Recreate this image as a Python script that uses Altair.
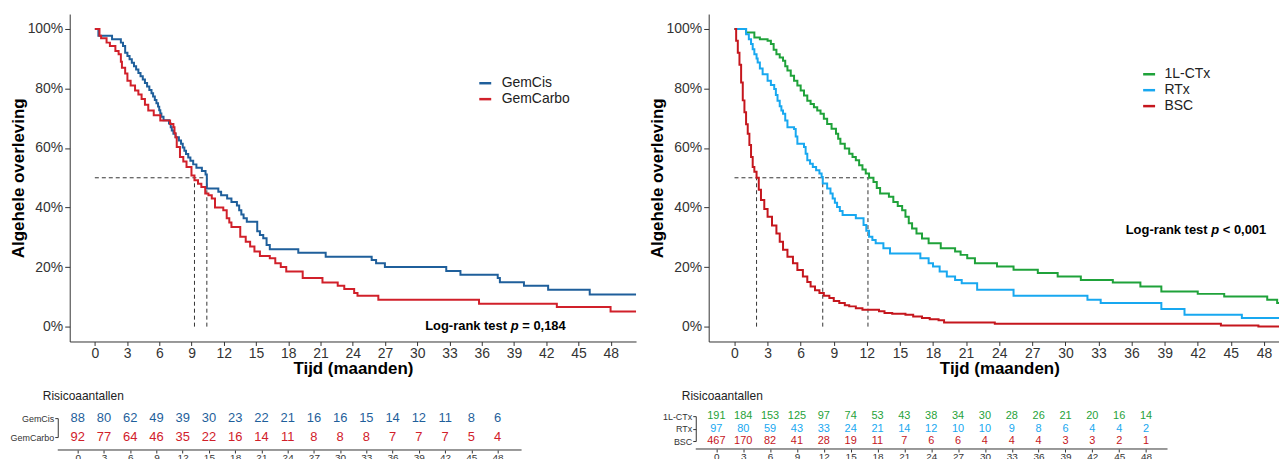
import altair as alt
import pandas as pd

FONT = "Liberation Sans"

# ---------------- Left panel: GemCis vs GemCarbo ----------------
left_groups = ["GemCis", "GemCarbo"]
left_colors = ["#1F5F9B", "#D1202A"]

gemcis_t = [0, 0.33, 1.60, 2.42, 2.62, 2.82, 3.03, 3.23, 3.44, 3.64, 3.84, 4.05, 4.25, 4.46, 4.66, 4.86, 5.07,
            5.27, 5.42, 5.58, 5.73, 5.88, 5.99, 6.09, 6.19, 6.39, 6.90, 7.06, 7.16, 7.31, 7.51, 7.82, 8.02, 8.18,
            8.33, 8.48, 8.69, 8.89, 9.15, 9.45, 9.96, 10.30, 10.42, 11.49, 11.75, 12.31, 12.71, 13.22, 13.43,
            13.63, 13.84, 14.14, 15.11, 15.36, 15.67, 15.98, 16.28, 18.93, 21.48, 25.76, 26.17, 26.99, 32.70,
            34.02, 37.49, 37.69, 39.93, 42.18, 46.05, 50.36]
gemcis_s = [100, 97.7, 96.5, 95.4, 94.3, 92.0, 90.9, 89.8, 88.6, 87.5, 86.4, 85.2, 84.1, 83.0, 81.8, 80.7, 79.5,
            78.4, 77.3, 76.1, 75.0, 73.9, 72.7, 71.6, 70.5, 69.3, 68.2, 67.0, 65.9, 64.8, 63.6, 62.5, 61.4, 60.2,
            59.1, 58.0, 56.8, 55.7, 54.5, 53.4, 52.3, 51.1, 46.4, 45.3, 44.1, 43.0, 41.9, 40.7, 39.1, 37.7, 36.4,
            35.2, 32.0, 30.8, 29.7, 27.4, 26.0, 24.8, 23.5, 22.4, 21.3, 20.0, 18.7, 17.4, 16.3, 14.9, 13.7, 12.4,
            10.8, 10.8]

gemcarbo_t = [0, 0.43, 0.58, 1.09, 1.40, 1.91, 2.21, 2.42, 2.52, 2.82, 3.03, 3.33, 3.74, 4.05, 4.35, 4.66, 4.97,
              5.48, 6.09, 7.00, 7.31, 7.41, 7.51, 7.62, 7.92, 8.23, 8.53, 8.99, 9.27, 9.60, 9.91, 10.27, 10.57,
              10.88, 11.18, 11.95, 12.27, 12.51, 12.71, 13.53, 14.04, 14.45, 14.85, 15.36, 16.28, 16.79, 17.30,
              17.81, 19.34, 21.18, 22.60, 23.21, 24.13, 24.44, 26.38, 35.75, 42.99, 47.99, 50.36]
gemcarbo_s = [100, 97.7, 96.9, 95.4, 94.3, 92.6, 91.5, 89.0, 87.0, 85.0, 82.6, 81.0, 79.3, 78.0, 76.5, 74.5,
              72.6, 71.0, 69.2, 68.1, 67.0, 65.0, 63.6, 60.3, 57.0, 55.5, 53.6, 50.8, 49.2, 48.0, 46.9, 44.7,
              44.1, 43.0, 40.0, 39.1, 36.4, 35.0, 33.5, 30.2, 28.5, 26.9, 25.2, 23.7, 23.0, 21.3, 20.0, 18.5,
              16.3, 14.8, 13.7, 12.6, 11.3, 10.4, 9.0, 7.7, 6.6, 5.1, 5.1]

left_medians = [9.27, 10.42]
left_note_x = [30.74]
left_note_y = [0.3]
left_note_rest = "= 0,184"

# ---------------- Right panel: 1L-CTx vs RTx vs BSC ----------------
right_groups = ["1L-CTx", "RTx", "BSC"]
right_colors = ["#1FA23A", "#18A8F0", "#C5161D"]

ctx_t = [0, 1.05, 1.8, 2.3, 3.0, 3.3, 3.55, 3.8, 4.1, 4.4, 4.6, 4.8, 5.1, 5.4, 5.7, 6.0, 6.3, 6.6, 6.9, 7.2,
         7.5, 7.8, 8.1, 8.4, 8.8, 9.2, 9.4, 9.6, 10.0, 10.4, 10.7, 11.0, 11.3, 11.6, 11.9, 12.2, 12.6, 12.9,
         13.2, 14.0, 14.4, 14.8, 15.2, 15.5, 15.8, 16.1, 16.5, 17.0, 17.6, 18.7, 20.0, 20.5, 21.1, 21.8, 23.8,
         25.3, 27.5, 29.3, 31.4, 34.3, 36.8, 38.7, 42.0, 44.4, 48.3, 49.2, 50.36]
ctx_s = [100, 98.8, 97.1, 96.5, 96.0, 94.9, 93.0, 91.5, 90.4, 89.3, 87.5, 86.0, 84.3, 82.6, 81.0, 79.3, 77.6,
         75.9, 74.8, 73.7, 72.6, 71.5, 69.8, 68.1, 66.5, 64.8, 63.1, 61.4, 59.8, 58.1, 57.0, 55.9, 54.2, 52.8,
         51.4, 50.0, 48.6, 46.6, 44.7, 43.6, 41.9, 40.5, 39.1, 36.9, 34.7, 33.0, 31.3, 29.6, 28.0, 26.3, 25.2,
         24.1, 23.0, 21.3, 20.2, 19.1, 18.0, 16.8, 15.7, 14.8, 13.5, 11.8, 11.0, 10.1, 9.0, 7.9, 7.9]

rtx_t = [0, 1.05, 1.3, 1.5, 1.65, 1.8, 2.0, 2.1, 2.3, 2.55, 3.0, 3.3, 3.6, 3.75, 3.9, 4.1, 4.25, 4.4, 4.6, 4.8,
         5.4, 5.55, 5.7, 6.3, 6.45, 6.6, 6.85, 7.1, 7.4, 7.7, 7.9, 8.0, 8.4, 8.7, 8.9, 9.1, 9.3, 9.55, 9.8,
         11.0, 11.7, 11.95, 12.2, 12.5, 12.8, 13.5, 14.1, 16.85, 17.6, 18.0, 18.6, 19.25, 20.0, 20.6, 22.0,
         25.3, 32.0, 33.2, 38.7, 40.8, 46.0, 50.36]
rtx_s = [100, 98.2, 96.5, 94.9, 93.2, 91.5, 90.1, 88.7, 86.7, 84.8, 82.6, 81.2, 79.8, 77.8, 75.9, 74.0, 72.6,
         71.5, 69.2, 67.0, 66.4, 63.9, 61.4, 60.3, 58.1, 55.9, 54.7, 53.6, 52.5, 51.4, 50.3, 48.1, 46.4, 44.7,
         43.0, 41.6, 40.2, 38.8, 37.5, 36.4, 34.1, 32.2, 30.2, 29.1, 28.0, 26.3, 24.6, 23.0, 21.3, 20.2, 18.5,
         16.8, 15.7, 14.6, 12.4, 10.4, 9.0, 7.9, 5.9, 4.0, 2.9, 2.9]

bsc_t = [0, 0.15, 0.3, 0.45, 0.6, 0.75, 0.9, 1.05, 1.2, 1.35, 1.5, 1.65, 1.8, 2.0, 2.2, 2.4, 2.7, 3.0, 3.4,
         3.8, 4.1, 4.4, 4.8, 5.3, 5.7, 6.2, 6.6, 6.9, 7.3, 7.7, 8.1, 8.6, 9.0, 9.5, 10.0, 10.4, 11.0, 11.6,
         13.1, 13.6, 14.3, 15.5, 16.2, 17.0, 17.7, 18.5, 19.0, 23.6, 44.1, 47.5, 50.36]
bsc_s = [100, 96, 92, 88, 82, 76, 72, 68, 64.8, 61, 57, 53.6, 52, 50, 46, 42.5, 39.5, 36.9, 34, 31.3, 28.5,
         25.8, 23.5, 21.3, 19, 16.8, 15, 13.5, 12.2, 11.3, 10.4, 9.6, 8.6, 7.9, 7.2, 6.8, 6.2, 5.7, 5.2, 4.6,
         4.3, 4.0, 3.4, 2.9, 2.5, 2.1, 1.4, 1.0, 0.4, 0.0, 0.0]

right_medians = [2.0, 8.0, 12.1]
right_note_x = [35.47]
right_note_y = [32.4]
right_note_rest = "< 0,001"

# ---------------- Risk tables ----------------
risk_times = [0, 3, 6, 9, 12, 15, 18, 21, 24, 27, 30, 33, 36, 39, 42, 45, 48]
risk_gemcis = [88, 80, 62, 49, 39, 30, 23, 22, 21, 16, 16, 15, 14, 12, 11, 8, 6]
risk_gemcarbo = [92, 77, 64, 46, 35, 22, 16, 14, 11, 8, 8, 8, 7, 7, 7, 5, 4]
risk_ctx = [191, 184, 153, 125, 97, 74, 53, 43, 38, 34, 30, 28, 26, 21, 20, 16, 14]
risk_rtx = [97, 80, 59, 43, 33, 24, 21, 14, 12, 10, 10, 9, 8, 6, 4, 4, 2]
risk_bsc = [467, 170, 82, 41, 28, 19, 11, 7, 6, 6, 4, 4, 4, 3, 3, 2, 1]

y_ticks = [0, 20, 40, 60, 80, 100]
km_xdomain = [-2.34, 50.36]


def km_chart(curves, groups, colors, medians, note_x, note_y, note_rest, legend_x, legend_y, width, label_off):
    rows = []
    for g, (ts, ss) in zip(groups, curves):
        for t, s in zip(ts, ss):
            rows.append({"g": g, "t": t, "s": s})
    df = pd.DataFrame(rows)

    xs = alt.Scale(domain=km_xdomain, nice=False, zero=False)
    ys = alt.Scale(domain=[-5, 105], nice=False, zero=False)
    xaxis = alt.Axis(values=risk_times, title="Tijd (maanden)", grid=False, labelFontSize=14, labelColor="#333333",
                     titleFontSize=17, titleFontWeight="bold", titleColor="#000000", tickSize=4, labelPadding=1,
                     titlePadding=0, labelFlush=False, domainColor="#333333", tickColor="#333333")
    yaxis = alt.Axis(values=y_ticks, labelExpr="datum.value + '%'", title="Algehele overleving", grid=False,
                     labelFontSize=14, labelColor="#333333", titleFontSize=17, titleFontWeight="bold",
                     titleColor="#000000", tickSize=5, labelPadding=2, titlePadding=0,
                     domainColor="#333333", tickColor="#333333")

    mrows = [{"x": 0, "x2": max(medians), "y": 50, "y2": 50}]
    for m in medians:
        mrows.append({"x": m, "x2": m, "y": 0, "y2": 50})
    mdf = pd.DataFrame(mrows)

    rules = alt.Chart(mdf).mark_rule(strokeDash=[4, 3], strokeWidth=1, color="#333333").encode(
        x=alt.X("x:Q", scale=xs, axis=xaxis), x2="x2:Q",
        y=alt.Y("y:Q", scale=ys, axis=yaxis), y2="y2:Q")

    lines = alt.Chart(df).mark_line(interpolate="step-after", strokeWidth=2).encode(
        x=alt.X("t:Q", scale=xs, axis=xaxis),
        y=alt.Y("s:Q", scale=ys, axis=yaxis),
        color=alt.Color("g:N", sort=groups, scale=alt.Scale(domain=groups, range=colors),
                        legend=alt.Legend(title=None, orient="none", legendX=legend_x, legendY=legend_y,
                                          symbolType="stroke", symbolSize=144, symbolStrokeWidth=2.5,
                                          labelFontSize=14, labelColor="#222222", labelFont=FONT,
                                          labelOffset=label_off, rowPadding=1, padding=0)))

    ndf = pd.DataFrame({"x": note_x, "y": note_y})
    fs = 13
    base = alt.Chart(ndf).encode(x=alt.X("x:Q", scale=xs, axis=xaxis), y=alt.Y("y:Q", scale=ys, axis=yaxis))
    common = dict(align="left", baseline="middle", fontSize=fs, fontWeight="bold", font=FONT, color="#000000")
    t1 = base.mark_text(text="Log-rank test", **common)
    t2 = base.mark_text(text="p", dx=fs * 6.612, fontStyle="italic", **common)
    t3 = base.mark_text(text=note_rest, dx=fs * (6.612 + 0.611 + 0.278), **common)

    return alt.layer(rules, lines, t1, t2, t3).properties(width=width, height=329)


def risk_table(groups, colors, counts, width, height, yrange, xdomain, num_fs, lab_fs, y_offset, title_dx):
    rows = []
    for g, ns in zip(groups, counts):
        for t, n in zip(risk_times, ns):
            rows.append({"g": g, "t": t, "n": n})
    tdf = pd.DataFrame(rows)
    nums = alt.Chart(tdf).mark_text(fontSize=num_fs, font=FONT, baseline="middle").encode(
        x=alt.X("t:Q", scale=alt.Scale(domain=xdomain, nice=False, zero=False),
                axis=alt.Axis(values=risk_times, title=None, grid=False, domain=False, labelFontSize=10,
                              labelColor="#333333", labelPadding=0, labelFlush=False,
                              tickSize=3, tickColor="#333333")),
        y=alt.Y("g:N", sort=groups, scale=alt.Scale(type="point", range=yrange, padding=0),
                axis=alt.Axis(title=None, labelFontSize=lab_fs, labelColor="#333333", tickSize=3, offset=y_offset,
                              labelPadding=1, domainColor="#333333", tickColor="#333333")),
        text="n:Q",
        color=alt.Color("g:N", sort=groups, scale=alt.Scale(domain=groups, range=colors), legend=None),
    )
    # bottom axis line, continued left to meet the offset y axis
    baseline = alt.Chart(pd.DataFrame({"k": [0]})).mark_rule(color="#333333", strokeWidth=1).encode(
        x=alt.value(-y_offset), x2=alt.value(width), y=alt.value(height))
    return alt.layer(nums, baseline).properties(
        width=width, height=height,
        title=alt.TitleParams("Risicoaantallen", anchor="start", frame="group", dx=title_dx, fontSize=12,
                              fontWeight="normal", offset=2, font=FONT, color="#222222"))


left_km = km_chart([(gemcis_t, gemcis_s), (gemcarbo_t, gemcarbo_s)], left_groups, left_colors, left_medians,
                   left_note_x, left_note_y, left_note_rest, 410, 62, 569, 9)
right_km = km_chart([(ctx_t, ctx_s), (rtx_t, rtx_s), (bsc_t, bsc_s)], right_groups, right_colors, right_medians,
                    right_note_x, right_note_y, right_note_rest, 435, 53, 584, 8)

left_tab = risk_table(left_groups, left_colors, [risk_gemcis, risk_gemcarbo], 454, 45, [13, 32],
                      [-0.91, 50.74], 13, 9, 12, -27)
right_tab = risk_table(right_groups, right_colors, [risk_ctx, risk_rtx, risk_bsc], 464, 44, [11, 36],
                       [-1.19, 50.4], 11, 9, 10, -24)

top_row = alt.hconcat(left_km, right_km, spacing=8).resolve_scale(color="independent").resolve_legend(
    color="independent")
bottom_row = alt.hconcat(left_tab, right_tab, spacing=140).resolve_scale(color="independent")

chart = alt.vconcat(top_row, bottom_row, spacing=14).resolve_scale(color="independent").resolve_legend(
    color="independent").properties(padding={"left": 1, "top": 5, "right": -15, "bottom": 0}).configure(
    font=FONT).configure_view(stroke=None)

chart.save("out.html", embed_options={"renderer": "svg", "actions": False})
